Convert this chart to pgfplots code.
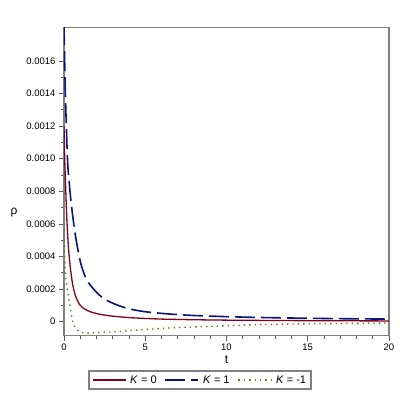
\documentclass[border=0pt]{standalone}
\usepackage{fontspec}
\setmainfont{Liberation Sans}
\usepackage{pgfplots}
\pgfplotsset{compat=1.18}
\definecolor{cred}{RGB}{128,0,32}
\definecolor{cblue}{RGB}{10,20,125}
\definecolor{cgreen}{RGB}{95,125,20}
\begin{document}
\begin{tikzpicture}[x=1pt,y=1pt]
\useasboundingbox (-64,-64.5) rectangle (336,335.5);
\begin{axis}[
  at={(0pt,0pt)}, anchor=south west,
  scale only axis, width=325pt, height=308pt,
  xmin=0, xmax=20, ymin=-0.0000847, ymax=0.001805,
  axis line style={color=gray, line width=1.6pt},
  tick align=outside, xtick pos=bottom, ytick pos=left,
  major tick length=5pt, minor tick length=3pt,
  every tick/.style={color=gray!70!black, line width=0.8pt},
  xtick={0,5,10,15,20}, minor x tick num=4,
  ytick={0,0.0002,0.0004,0.0006,0.0008,0.0010,0.0012,0.0014,0.0016},
  yticklabels={0,0.0002,0.0004,0.0006,0.0008,0.0010,0.0012,0.0014,0.0016},
  minor y tick num=1,
  scaled y ticks=false, scaled x ticks=false,
  /pgf/number format/assume math mode=true,
  ticklabel style={font=\fontsize{9.5}{11}\selectfont},
  xlabel={t}, ylabel={ρ},
  label style={font=\fontsize{12}{14}\selectfont},
  xlabel style={at={(axis description cs:0.5,-0.0795)}, anchor=center},
  ylabel style={at={(axis description cs:-0.154,0.398)}, rotate=-90, anchor=center},
  legend columns=3,
  legend style={at={(axis description cs:0.4185,-0.1445)}, anchor=center,
    draw=gray, line width=1.5pt, font=\fontsize{11}{13}\selectfont,
    inner xsep=3pt, inner ysep=2.5pt,
    /tikz/every odd column/.append style={column sep=2pt},
    /tikz/every even column/.append style={column sep=6pt}},
  legend image code/.code={\draw[#1] (0pt,0pt) -- (33pt,0pt);},
  clip=true,
]
\addplot[cred, line width=1.3pt, smooth, tension=0.4] coordinates {
(0,0.00120) (0.05,0.00098) (0.11,0.00080) (0.18,0.00062) (0.27,0.00046)
(0.38,0.00034) (0.53,0.00023) (0.7,0.00016) (0.94,0.000108) (1.2,0.000082)
(1.56,0.000063) (2,0.00005) (2.4,0.000042) (3,0.000034) (4,0.000025)
(5,0.00002) (6,0.000016) (8,0.000012) (10,0.0000095) (12.5,0.0000076)
(15,0.0000063) (17.5,0.0000054) (20,0.0000047)
};
\addlegendentry{\textit{K} = 0}
\addplot[cblue, line width=1.6pt, dash pattern=on 20pt off 6pt, smooth, tension=0.4] coordinates {
(0,0.00182) (0.07,0.00146) (0.15,0.00118) (0.24,0.00095) (0.45,0.00072)
(0.7,0.00053) (1.0,0.00037) (1.25,0.00029) (1.5,0.00024) (2,0.00018)
(2.5,0.000138) (3.2,0.000105) (4,0.000079) (5,0.000061) (6.5,0.000047)
(8,0.000038) (10,0.000031) (12,0.000026) (15,0.000021) (17.5,0.000018)
(20,0.000016)
};
\addlegendentry{\textit{K} = 1}
\addplot[cgreen, line width=1.4pt, dash pattern=on 1.4pt off 4pt, smooth, tension=0.4] coordinates {
(0,0.00060) (0.02,0.00047) (0.07,0.00033) (0.18,0.00021) (0.28,0.00015)
(0.38,0.00009) (0.49,0.00002) (0.6,-0.00002) (0.73,-0.00004) (0.9,-0.000058)
(1.1,-0.000067) (1.5,-0.00007) (2,-0.000068) (3,-0.000062) (4,-0.000055)
(5,-0.000048) (6,-0.000041) (8,-0.000032) (10,-0.000025) (12,-0.000018)
(15,-0.000013) (20,-0.000008)
};
\addlegendentry{\textit{K} = -1}
\end{axis}
\end{tikzpicture}
\end{document}
